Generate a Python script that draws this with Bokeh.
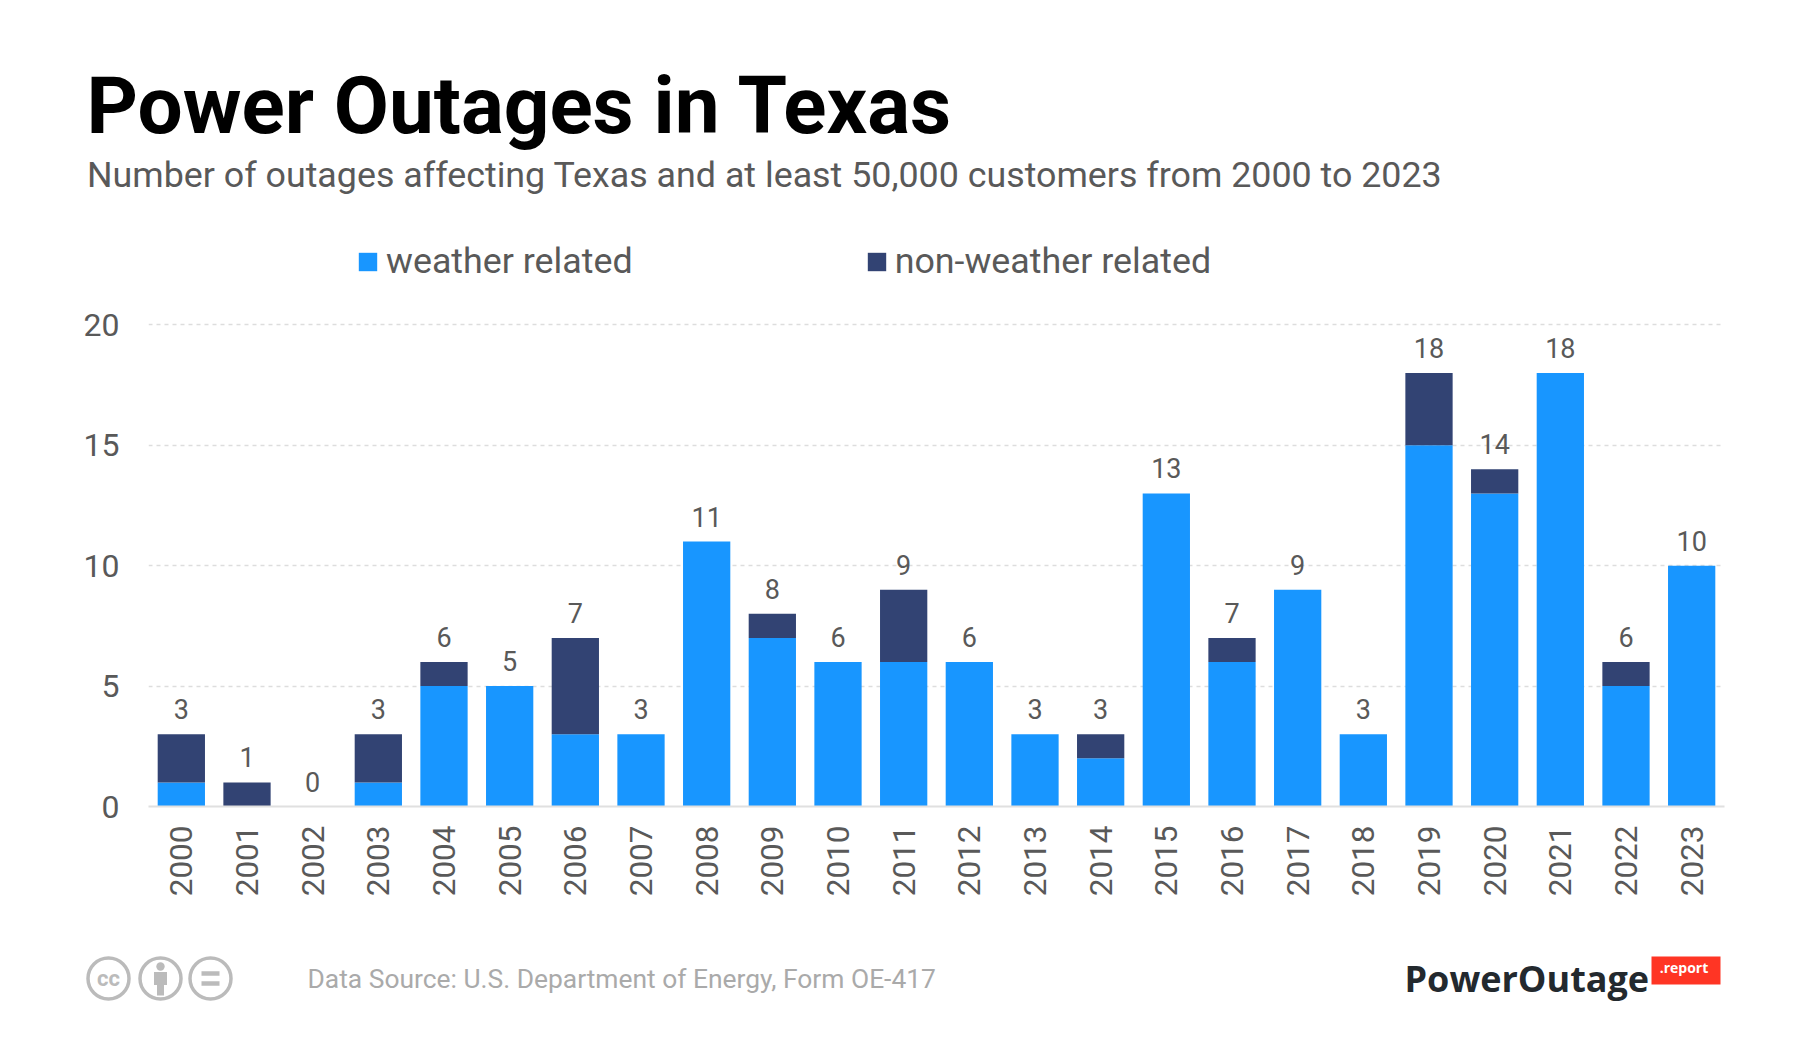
from bokeh.plotting import figure
from bokeh.models import (FixedTicker, Legend, LegendItem, Range1d, ColumnDataSource)
from bokeh.core.properties import value
from bokeh.embed import file_html
from bokeh.resources import INLINE
import math

years = [str(y) for y in range(2000, 2024)]
weather_related = [1, 0, 0, 1, 5, 5, 3, 3, 11, 7, 6, 6, 6, 3, 2, 13, 6, 9, 3, 15, 13, 18, 5, 10]
non_weather_related = [2, 1, 0, 2, 1, 0, 4, 0, 0, 1, 0, 3, 0, 0, 1, 0, 1, 0, 0, 3, 1, 0, 1, 0]
y_ticks = [0, 5, 10, 15, 20]

TITLE = "Power Outages in Texas"
SUBTITLE = "Number of outages affecting Texas and at least 50,000 customers from 2000 to 2023"
SOURCE = "Data Source: U.S. Department of Energy, Form OE-417"

BLUE = "#1896ff"
NAVY = "#324373"
GREY = "#595959"

totals = [a + b for a, b in zip(weather_related, non_weather_related)]
src = ColumnDataSource(dict(year=years, weather=weather_related, non=non_weather_related,
                            total=totals, label=[str(t) for t in totals]))

H = 228
FW = 1790


def plain(height, top):
    f = figure(width=FW, height=height, x_range=Range1d(0, FW),
               y_range=Range1d(top + height, top), output_backend="svg",
               toolbar_location=None, min_border=0)
    f.axis.visible = False
    f.grid.visible = False
    f.outline_line_color = None
    return f


head = plain(H, 0)
head.text(x=[86], y=[105], text=[TITLE], text_baseline="alphabetic", text_color="#000000",
          text_font=value("Roboto"), text_font_style="bold", text_font_size="80px")
head.text(x=[86.5], y=[174], text=[SUBTITLE], text_baseline="alphabetic", text_color=GREY,
          text_font=value("Roboto"), text_font_size="35.8px")

MAIN_H = 692
p = figure(width=FW, height=MAIN_H, x_range=years, y_range=Range1d(0, 24),
           output_backend="svg", toolbar_location=None,
           min_border_left=148, min_border_right=66, min_border_top=0, min_border_bottom=114)
p.outline_line_color = None
p.xgrid.grid_line_color = None
p.ygrid.grid_line_color = "#dddddd"
p.ygrid.grid_line_dash = "4 4"
p.ygrid.grid_line_width = 1.3

r = p.vbar_stack(["weather", "non"], x="year", width=0.72, source=src,
                 color=[BLUE, NAVY], line_color=None)

p.text(x="year", y="total", text="label", source=src, text_align="center",
       text_baseline="alphabetic", y_offset=-25, text_color=GREY,
       text_font=value("Roboto"), text_font_size="27px")

p.yaxis.ticker = FixedTicker(ticks=y_ticks)
p.yaxis.axis_line_color = None
p.yaxis.major_tick_line_color = None
p.yaxis.minor_tick_line_color = None
p.yaxis.major_label_standoff = 23
p.yaxis.major_label_text_font = "Roboto"
p.yaxis.major_label_text_font_size = "32px"
p.yaxis.major_label_text_color = GREY

p.xaxis.axis_line_color = "#e0e0e0"
p.xaxis.axis_line_width = 2
p.xaxis.major_tick_line_color = None
p.xaxis.minor_tick_line_color = None
p.xaxis.major_label_orientation = math.pi / 2
p.xaxis.major_label_standoff = 13
p.xaxis.major_label_text_font = "Roboto"
p.xaxis.major_label_text_font_size = "31.5px"
p.xaxis.major_label_text_color = GREY

legend = Legend(items=[LegendItem(label="weather related", renderers=[r[0]]),
                       LegendItem(label="non-weather related", renderers=[r[1]])],
                orientation="horizontal", location=(208, 524), margin=0, padding=0,
                spacing=232, glyph_width=23, glyph_height=23, label_standoff=7,
                border_line_color=None, background_fill_alpha=0,
                label_text_font="Roboto", label_text_font_size="35.8px",
                label_text_color=GREY)
p.add_layout(legend, "center")

foot = plain(109, H + MAIN_H)
ICON = "#bbbbbb"
foot.circle(x=[108, 160, 210], y=[978, 978, 978], radius=20.5, fill_color=None,
            line_color=ICON, line_width=3.5)
foot.text(x=[108], y=[978], text=["cc"], text_align="center", text_baseline="middle",
          text_color=ICON, text_font=value("Roboto"), text_font_style="bold", text_font_size="22px")
foot.circle(x=[160], y=[966], radius=4.2, fill_color=ICON, line_color=None)
foot.rect(x=[160, 160], y=[978, 989], width=[13, 7], height=[13, 12], fill_color=ICON, line_color=None)
foot.rect(x=[210, 210], y=[973, 983], width=[18, 18], height=[4.5, 4.5], fill_color=ICON, line_color=None)

foot.text(x=[307], y=[978], text=[SOURCE], text_baseline="alphabetic",
          text_color="#aaaaaa", text_font=value("Roboto"), text_font_size="26.4px")
foot.text(x=[1404], y=[978], text=["PowerOutage"], text_baseline="alphabetic",
          text_color="#23292e", text_font=value("Open Sans"), text_font_style="bold", text_font_size="36px")
foot.quad(left=[1651], right=[1720], top=[956], bottom=[984], fill_color="#ff3524", line_color=None)
foot.text(x=[1683.5], y=[967], text=[".report"], text_align="center", text_baseline="alphabetic",
          text_color="#ffffff", text_font=value("Open Sans"), text_font_style="bold", text_font_size="14px")

open("out.html", "w").write(file_html([head, p, foot], INLINE))
